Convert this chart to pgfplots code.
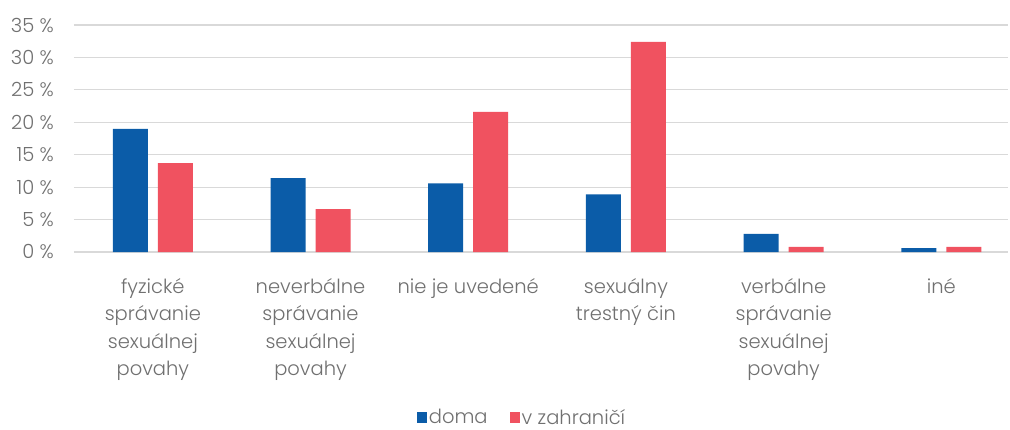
\documentclass[border=0pt]{standalone}
\usepackage{pgfplots}
\pgfplotsset{compat=1.18}
\usepackage{fontspec}
\setmainfont{Poppins}[UprightFont=* Light]
\definecolor{cblue}{RGB}{11,92,168}
\definecolor{cred}{RGB}{240,82,96}
\definecolor{cgrid}{RGB}{217,217,217}
\definecolor{ctext}{RGB}{112,112,112}
\begin{document}
\begin{tikzpicture}
\begin{axis}[
  at={(0,0)}, anchor=south west,
  scale only axis,
  width=934bp, height=227bp,
  xmin=-0.5, xmax=5.423, ymin=0, ymax=35,
  ybar, bar width=35bp,
  axis line style={draw=none},
  major tick length=0pt,
  ymajorgrids, grid style={cgrid, line width=1.2bp},
  ytick={0,5,...,35},
  yticklabels={0 \%,5 \%,10 \%,15 \%,20 \%,25 \%,30 \%,35 \%},
  xtick={0,...,5},
  xticklabels={fyzické\\správanie\\sexuálnej\\povahy,
               neverbálne\\správanie\\sexuálnej\\povahy,
               nie je uvedené,
               sexuálny\\trestný čin,
               verbálne\\správanie\\sexuálnej\\povahy,
               iné},
  yticklabel style={font=\fontsize{19.5bp}{23bp}\selectfont, text=ctext, inner sep=0pt, anchor=east, xshift=-20bp},
  xticklabel style={font=\fontsize{19.5bp}{27.5bp}\selectfont, text=ctext, align=center, anchor=north, inner sep=0pt, yshift=-26bp},
  legend style={at={(0.4797,-0.728)}, anchor=center, draw=none, fill=none,
     legend columns=2, font=\fontsize{19.5bp}{23bp}\selectfont, text=ctext,
     /tikz/every even column/.append style={column sep=20bp},
     inner sep=0pt, row sep=0pt},
  legend image code/.code={\fill[#1] (0bp,-6bp) rectangle (10bp,5bp);},
  clip=false,
]
\addplot[fill=cblue, draw=none, bar shift=-22.5bp] coordinates {(0,19.0) (1,11.4) (2,10.6) (3,8.9) (4,2.8) (5,0.6)};
\addplot[fill=cred, draw=none, bar shift=22.5bp] coordinates {(0,13.7) (1,6.6) (2,21.6) (3,32.4) (4,0.8) (5,0.8)};
\legend{doma, v zahraničí}
\end{axis}
\pgfresetboundingbox
\path (-74bp,-178bp) rectangle (936bp,252bp);
\end{tikzpicture}
\end{document}
